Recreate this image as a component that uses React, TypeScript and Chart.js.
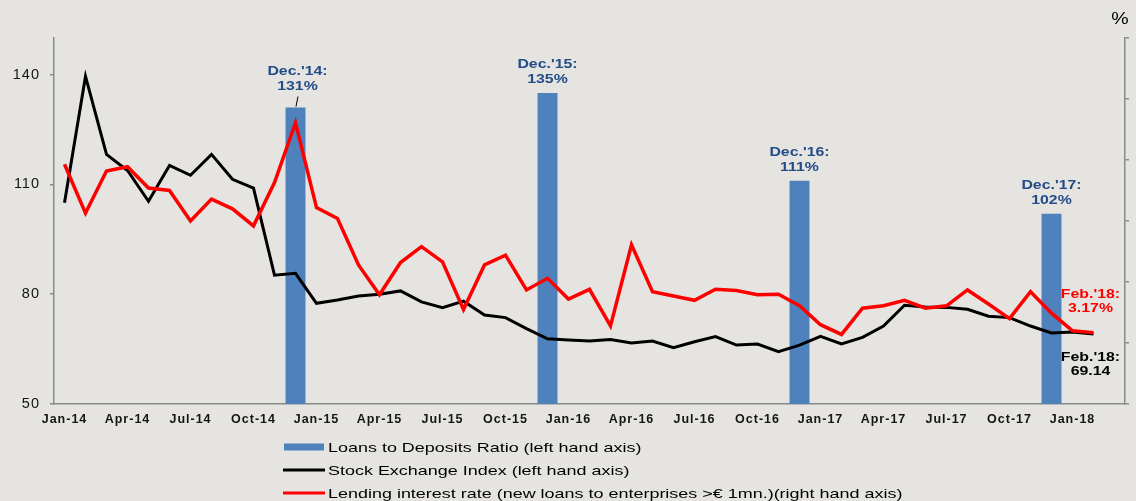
import React, { useEffect, useRef } from 'react';
import { Chart, registerables } from 'chart.js';

Chart.register(...registerables);

// ---- DATA ----
const months = [
  'Jan-14', 'Feb-14', 'Mar-14', 'Apr-14', 'May-14', 'Jun-14', 'Jul-14', 'Aug-14', 'Sep-14', 'Oct-14', 'Nov-14', 'Dec-14',
  'Jan-15', 'Feb-15', 'Mar-15', 'Apr-15', 'May-15', 'Jun-15', 'Jul-15', 'Aug-15', 'Sep-15', 'Oct-15', 'Nov-15', 'Dec-15',
  'Jan-16', 'Feb-16', 'Mar-16', 'Apr-16', 'May-16', 'Jun-16', 'Jul-16', 'Aug-16', 'Sep-16', 'Oct-16', 'Nov-16', 'Dec-16',
  'Jan-17', 'Feb-17', 'Mar-17', 'Apr-17', 'May-17', 'Jun-17', 'Jul-17', 'Aug-17', 'Sep-17', 'Oct-17', 'Nov-17', 'Dec-17',
  'Jan-18', 'Feb-18', 'Mar-18',
];

const barMonths = ['Dec-14', 'Dec-15', 'Dec-16', 'Dec-17'];
const loansToDeposits = [131, 135, 111, 102];
const barNotes = ["Dec.'14:", "Dec.'15:", "Dec.'16:", "Dec.'17:"];

const stockIndex = [
  105, 139.5, 118.2, 113.8, 105.4, 115.2, 112.5, 118.2, 111.4, 109, 85.2, 85.7,
  77.5, 78.4, 79.5, 80, 80.9, 77.9, 76.3, 78.1, 74.3, 73.6, 70.6, 67.8,
  67.5, 67.2, 67.6, 66.7, 67.2, 65.4, 67, 68.4, 66.1, 66.4, 64.3, 66.1,
  68.5, 66.4, 68.2, 71.3, 77, 76.5, 76.4, 75.9, 74, 73.6, 71.3, 69.4,
  69.7, 69.14,
];

const lendingRate = [
  5.93, 5.13, 5.82, 5.89, 5.54, 5.5, 5.0, 5.36, 5.2, 4.92, 5.63, 6.61,
  5.22, 5.04, 4.28, 3.79, 4.32, 4.58, 4.33, 3.55, 4.28, 4.44, 3.87, 4.06,
  3.72, 3.88, 3.28, 4.61, 3.84, 3.77, 3.7, 3.88, 3.86, 3.79, 3.8, 3.61,
  3.3, 3.14, 3.57, 3.61, 3.7, 3.57, 3.61, 3.87, 3.64, 3.4, 3.84, 3.49,
  3.2, 3.17,
];

const leftTicks = [50, 80, 110, 140];
const rightTicks = [2, 3, 4, 5, 6, 7, 8];

const seriesLabels = [
  'Loans to Deposits Ratio (left hand axis)',
  'Stock Exchange Index (left hand axis)',
  'Lending interest rate (new loans to enterprises >€ 1mn.)(right hand axis)',
];

// ---- STYLE ----
const BG = '#e5e4e0';
const AXIS = '#8a8a8a';
const BAR = '#4f81bd';
const NOTE_BLUE = '#244c88';
const FONT = '"Liberation Sans", Arial, Helvetica, sans-serif';

function stretchedText(ctx: CanvasRenderingContext2D, text: string, x: number, y: number, sx: number, align: CanvasTextAlign) {
  ctx.save();
  ctx.translate(x, y);
  ctx.scale(sx, 1);
  ctx.textAlign = align;
  ctx.fillText(text, 0, 0);
  ctx.restore();
}

const decor = {
  id: 'decor',
  beforeDraw(chart: any) {
    chart.ctx.letterSpacing = '1px';
  },
  afterDraw(chart: any) {
    const ctx: CanvasRenderingContext2D = chart.ctx;
    const xs = chart.scales.x;
    const ys = chart.scales.y;
    const y2 = chart.scales.y2;
    ctx.save();
    ctx.letterSpacing = '0px';
    ctx.textBaseline = 'middle';

    // bar annotations
    ctx.font = `bold 13px ${FONT}`;
    barMonths.forEach((m, i) => {
      const px = xs.getPixelForValue(months.indexOf(m));
      const top = ys.getPixelForValue(loansToDeposits[i]);
      const gap = i === 0 ? 21 : 13;
      const dx = i === 0 ? 2 : 0;
      ctx.fillStyle = NOTE_BLUE;
      stretchedText(ctx, barNotes[i], px + dx, top - gap - 15, 1.22, 'center');
      stretchedText(ctx, `${loansToDeposits[i]}%`, px + dx, top - gap, 1.22, 'center');
      if (i === 0) {
        ctx.strokeStyle = '#000';
        ctx.lineWidth = 1;
        ctx.beginPath();
        ctx.moveTo(px + 0.5, top - 1);
        ctx.lineTo(px + 2.5, top - 11);
        ctx.stroke();
      }
    });

    // last point annotations
    const li = stockIndex.length - 1;
    const lx = xs.getPixelForValue(li);
    const ry = y2.getPixelForValue(lendingRate[lendingRate.length - 1]);
    const by = ys.getPixelForValue(stockIndex[li]);
    ctx.fillStyle = '#ff0000';
    stretchedText(ctx, "Feb.'18:", lx - 3, ry - 38, 1.22, 'center');
    stretchedText(ctx, `${lendingRate[lendingRate.length - 1].toFixed(2)}%`, lx - 3, ry - 24, 1.22, 'center');
    ctx.fillStyle = '#000';
    stretchedText(ctx, "Feb.'18:", lx - 3, by + 23, 1.22, 'center');
    stretchedText(ctx, `${stockIndex[li].toFixed(2)}`, lx - 3, by + 37, 1.22, 'center');

    // % unit above right axis
    ctx.font = `17px ${FONT}`;
    ctx.fillStyle = '#000';
    stretchedText(ctx, '%', y2.left - 5, 19, 1.15, 'center');

    // legend
    const lgX = 284;
    const rows = [447, 470, 493];
    ctx.fillStyle = BAR;
    ctx.fillRect(lgX, rows[0] - 3.5, 40, 7);
    ctx.lineWidth = 3;
    ctx.strokeStyle = '#000';
    ctx.beginPath();
    ctx.moveTo(lgX - 1, rows[1]);
    ctx.lineTo(lgX + 41, rows[1]);
    ctx.stroke();
    ctx.strokeStyle = '#ff0000';
    ctx.beginPath();
    ctx.moveTo(lgX - 1, rows[2]);
    ctx.lineTo(lgX + 41, rows[2]);
    ctx.stroke();
    ctx.font = `13.5px ${FONT}`;
    ctx.fillStyle = '#000';
    seriesLabels.forEach((t, i) => {
      stretchedText(ctx, t, lgX + 44, rows[i] + 1, 1.33, 'left');
    });
    ctx.restore();
  },
};

export default function App() {
  const ref = useRef<HTMLCanvasElement | null>(null);

  useEffect(() => {
    document.body.style.margin = '0';
    document.body.style.background = BG;
    const canvas = ref.current;
    if (!canvas) return;

    const barData = months.map((m) => {
      const k = barMonths.indexOf(m);
      return k >= 0 ? loansToDeposits[k] : null;
    });

    const chart = new Chart(canvas, {
      type: 'bar',
      data: {
        labels: months,
        datasets: [
          {
            type: 'line',
            label: seriesLabels[2],
            data: lendingRate,
            borderColor: '#ff0000',
            backgroundColor: '#ff0000',
            borderWidth: 3.5,
            pointRadius: 0,
            tension: 0,
            yAxisID: 'y2',
            order: 1,
          },
          {
            type: 'line',
            label: seriesLabels[1],
            data: stockIndex,
            borderColor: '#000000',
            backgroundColor: '#000000',
            borderWidth: 3,
            pointRadius: 0,
            tension: 0,
            yAxisID: 'y',
            order: 2,
          },
          {
            type: 'bar',
            label: seriesLabels[0],
            data: barData,
            backgroundColor: BAR,
            barPercentage: 0.95,
            categoryPercentage: 1,
            yAxisID: 'y',
            order: 3,
          },
        ] as any,
      },
      options: {
        animation: false,
        responsive: false,
        maintainAspectRatio: false,
        layout: { padding: { top: 38, left: 0, right: 0, bottom: 0 } },
        plugins: { legend: { display: false }, tooltip: { enabled: false } },
        scales: {
          x: {
            offset: true,
            grid: { display: false, drawTicks: false },
            border: { display: true, color: AXIS, width: 1.5 },
            ticks: {
              autoSkip: false,
              maxRotation: 0,
              minRotation: 0,
              color: '#151515',
              padding: 8,
              font: { family: FONT, size: 12.5, weight: 'bold' },
              callback: (_v: any, i: number) => (i % 3 === 0 && i < stockIndex.length ? months[i] : ''),
            },
            afterFit: (s: any) => {
              s.height = 97;
            },
          },
          y: {
            position: 'left',
            min: 50,
            max: 150,
            afterBuildTicks: (s: any) => {
              s.ticks = leftTicks.map((v) => ({ value: v }));
            },
            grid: { display: true, drawOnChartArea: false, drawTicks: true, tickLength: 4, color: AXIS, lineWidth: 1.5 },
            border: { display: true, color: AXIS, width: 1.5 },
            ticks: { color: '#151515', padding: 10, font: { family: FONT, size: 14.5 } },
            afterFit: (s: any) => {
              s.width = 54;
            },
          },
          y2: {
            position: 'right',
            min: 2,
            max: 8,
            afterBuildTicks: (s: any) => {
              s.ticks = rightTicks.map((v) => ({ value: v }));
            },
            grid: { display: true, drawOnChartArea: false, drawTicks: true, tickLength: 4, color: AXIS, lineWidth: 1.5 },
            border: { display: true, color: AXIS, width: 1.5 },
            ticks: { display: false },
            afterFit: (s: any) => {
              s.width = 11;
            },
          },
        },
      } as any,
      plugins: [decor],
    });

    return () => chart.destroy();
  }, []);

  return (
    <canvas
      ref={ref}
      width={1136}
      height={501}
      style={{ display: 'block', width: 1136, height: 501, background: BG }}
    />
  );
}
